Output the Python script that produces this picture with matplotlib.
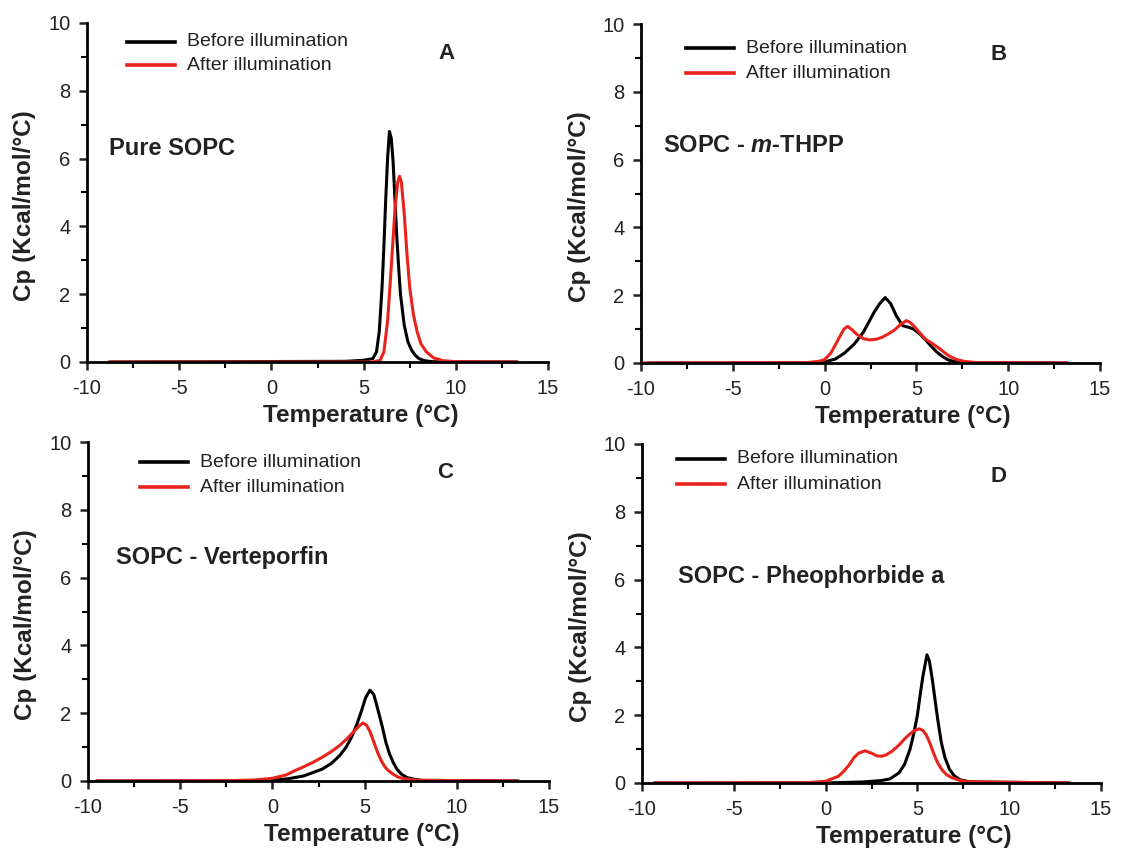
import matplotlib
matplotlib.use("Agg")
import matplotlib.pyplot as plt
from matplotlib.ticker import MultipleLocator

plt.rcParams['font.family'] = ['Liberation Sans', 'DejaVu Sans']
plt.rcParams['axes.unicode_minus'] = False
plt.rcParams['mathtext.fontset'] = 'custom'
plt.rcParams['mathtext.bfit'] = 'Liberation Sans:bold:italic'

# ---- data (Temperature in degC, Cp in Kcal/mol/degC) ----
a_before_t = [-8.7, 4.0, 5.0, 5.5, 5.7, 5.85, 6.0, 6.1, 6.2, 6.3, 6.4, 6.5, 6.6, 6.7,
              6.8, 6.9, 7.0, 7.2, 7.4, 7.6, 7.8, 8.0, 8.3, 8.7, 13.3]
a_before_cp = [0, 0.02, 0.05, 0.1, 0.3, 0.9, 2.2, 3.4, 4.8, 6.0, 6.8, 6.6, 5.9, 4.8,
               3.7, 2.8, 2.0, 1.1, 0.6, 0.35, 0.2, 0.1, 0.04, 0.01, 0]
a_after_t = [-8.8, 5.5, 5.9, 6.1, 6.3, 6.5, 6.7, 6.85, 6.95, 7.05, 7.2, 7.35, 7.5, 7.7,
             7.9, 8.1, 8.4, 8.8, 9.3, 10.0, 13.3]
a_after_cp = [0, 0, 0.05, 0.3, 1.2, 2.8, 4.5, 5.3, 5.48, 5.3, 4.4, 3.2, 2.2, 1.4,
              0.9, 0.55, 0.3, 0.12, 0.04, 0.01, 0]

b_before_t = [-9.6, -1.0, 0.0, 0.6, 1.1, 1.6, 2.1, 2.7, 3.0, 3.3, 3.6, 3.9, 4.25, 4.6,
              4.85, 5.2, 5.5, 5.8, 6.1, 6.4, 6.7, 7.0, 7.5, 13.2]
b_before_cp = [0, 0, 0.03, 0.12, 0.3, 0.55, 0.9, 1.5, 1.75, 1.93, 1.75, 1.4, 1.1, 1.05,
               1.0, 0.85, 0.68, 0.5, 0.33, 0.2, 0.1, 0.05, 0.01, 0]
b_after_t = [-9.8, -1.0, -0.3, 0.0, 0.35, 0.6, 0.85, 1.05, 1.25, 1.45, 1.75, 2.1, 2.45,
             2.8, 3.1, 3.45, 3.8, 4.1, 4.45, 4.65, 4.85, 5.2, 5.5, 5.8, 6.2, 6.5,
             6.8, 7.2, 7.6, 8.3, 13.2]
b_after_cp = [0, 0.01, 0.05, 0.1, 0.3, 0.55, 0.8, 1.0, 1.08, 1.0, 0.85, 0.72, 0.68,
              0.7, 0.75, 0.85, 0.97, 1.12, 1.25, 1.2, 1.1, 0.88, 0.7, 0.6, 0.45, 0.32,
              0.2, 0.1, 0.05, 0.01, 0]

c_before_t = [-9.5, -1.0, 0.0, 0.9, 1.7, 2.7, 3.2, 3.65, 4.0, 4.3, 4.6, 4.85, 5.05,
              5.29, 5.5, 5.7, 5.96, 6.15, 6.35, 6.55, 6.75, 7.0, 7.3, 7.7, 8.1, 13.3]
c_before_cp = [0, 0, 0.02, 0.07, 0.15, 0.35, 0.52, 0.75, 1.0, 1.3, 1.7, 2.1, 2.45,
               2.68, 2.55, 2.15, 1.6, 1.15, 0.8, 0.55, 0.35, 0.2, 0.1, 0.05, 0.02, 0]
c_after_t = [-9.5, -2.4, -1.0, 0.0, 0.75, 1.2, 1.7, 2.2, 2.7, 3.2, 3.65, 4.05, 4.4,
             4.7, 4.9, 5.1, 5.3, 5.5, 5.7, 5.9, 6.1, 6.3, 6.55, 6.8, 7.1, 7.9, 13.3]
c_after_cp = [0, 0.01, 0.03, 0.08, 0.18, 0.3, 0.42, 0.55, 0.7, 0.87, 1.05, 1.25, 1.45,
              1.62, 1.71, 1.65, 1.45, 1.15, 0.85, 0.6, 0.42, 0.3, 0.2, 0.12, 0.07,
              0.02, 0]

d_before_t = [-9.3, -0.1, 2.0, 3.0, 3.5, 4.0, 4.3, 4.6, 4.8, 5.0, 5.15, 5.3, 5.52,
              5.65, 5.8, 5.95, 6.1, 6.3, 6.5, 6.75, 7.0, 7.3, 7.7, 8.1, 13.25]
d_before_cp = [0, 0, 0.03, 0.07, 0.12, 0.3, 0.55, 1.0, 1.45, 2.0, 2.6, 3.15, 3.78,
               3.6, 3.1, 2.5, 1.9, 1.2, 0.75, 0.4, 0.22, 0.1, 0.05, 0.03, 0]
d_after_t = [-9.3, -1.0, 0.0, 0.7, 1.0, 1.3, 1.55, 1.8, 2.15, 2.5, 2.8, 3.05, 3.3,
             3.6, 4.0, 4.3, 4.6, 4.85, 5.1, 5.3, 5.5, 5.7, 5.9, 6.1, 6.35, 6.6,
             6.9, 7.3, 7.7, 13.25]
d_after_cp = [0, 0.01, 0.05, 0.2, 0.35, 0.55, 0.75, 0.88, 0.95, 0.88, 0.8, 0.79, 0.83,
              0.93, 1.12, 1.3, 1.45, 1.55, 1.6, 1.55, 1.4, 1.15, 0.85, 0.6, 0.38,
              0.24, 0.15, 0.08, 0.04, 0]

panels = [
    # letter, title, before, after, axes box (px: left, top, right, bottom),
    # title pos, letter pos, legend (x, y before, y after) in axes fractions
    ('A', 'Pure SOPC', (a_before_t, a_before_cp), (a_after_t, a_after_cp),
     (87, 23, 548, 362), (0.048, 0.63), (0.78, 0.91), (0.086, 0.944, 0.876)),
    ('B', 'SOPC - $\\mathbfit{m}$-THPP', (b_before_t, b_before_cp), (b_after_t, b_after_cp),
     (641, 24, 1100, 363), (0.048, 0.643), (0.78, 0.909), (0.098, 0.929, 0.855)),
    ('C', 'SOPC - Verteporfin', (c_before_t, c_before_cp), (c_after_t, c_after_cp),
     (88, 442, 549, 781), (0.06, 0.658), (0.774, 0.909), (0.112, 0.941, 0.867)),
    ('D', 'SOPC - Pheophorbide a', (d_before_t, d_before_cp), (d_after_t, d_after_cp),
     (642, 444, 1101, 783), (0.079, 0.608), (0.776, 0.903), (0.077, 0.956, 0.882)),
]

W, H = 1123, 848
fig = plt.figure(figsize=(W / 100, H / 100), dpi=100)
red = '#e8231c'
ink = '#222222'

for letter, title, before, after, box, title_pos, letter_pos, leg in panels:
    l, t, r, b = box
    ax = fig.add_axes([l / W, 1 - b / H, (r - l) / W, (b - t) / H])
    ax.plot(before[0], before[1], color='black', lw=2.2, solid_joinstyle='round')
    ax.plot(after[0], after[1], color=red, lw=2.2, solid_joinstyle='round')

    ax.set_xlim(-10, 15)
    ax.set_ylim(0, 10)
    ax.xaxis.set_major_locator(MultipleLocator(5))
    ax.xaxis.set_minor_locator(MultipleLocator(2.5))
    ax.yaxis.set_major_locator(MultipleLocator(2))
    ax.yaxis.set_minor_locator(MultipleLocator(1))
    for side in ('top', 'right'):
        ax.spines[side].set_visible(False)
    for side in ('left', 'bottom'):
        ax.spines[side].set_linewidth(2.0)
    ax.tick_params(which='major', direction='out', length=6, width=1.8,
                   labelsize=14.5, pad=6, colors=ink)
    ax.tick_params(which='minor', direction='out', length=4, width=1.5)
    ax.patch.set_alpha(0)

    ax.set_xlabel('Temperature (°C)', fontsize=17.5, fontweight='bold', color=ink)
    ax.xaxis.set_label_coords(0.593, -0.125)
    ax.set_ylabel('Cp (Kcal/mol/°C)', fontsize=17.5, fontweight='bold', color=ink)
    ax.yaxis.set_label_coords(-0.11, 0.46)

    ax.text(title_pos[0], title_pos[1], title, transform=ax.transAxes,
            fontsize=17, fontweight='bold', va='center', ha='left', color=ink)
    ax.text(letter_pos[0], letter_pos[1], letter, transform=ax.transAxes,
            fontsize=16, fontweight='bold', va='center', ha='center', color=ink)

    # hand-placed legend entries
    x0, yb, ya = leg
    x1 = x0 + 0.104
    ax.plot([x0, x1], [yb, yb], transform=ax.transAxes, color='black', lw=2.6,
            clip_on=False)
    ax.plot([x0, x1], [ya, ya], transform=ax.transAxes, color=red, lw=2.6,
            clip_on=False)
    ax.text(x1 + 0.027, yb, 'Before illumination', transform=ax.transAxes,
            fontsize=14, va='center', ha='left', color=ink)
    ax.text(x1 + 0.027, ya, 'After illumination', transform=ax.transAxes,
            fontsize=14, va='center', ha='left', color=ink)

fig.savefig('out.png', dpi=100)
